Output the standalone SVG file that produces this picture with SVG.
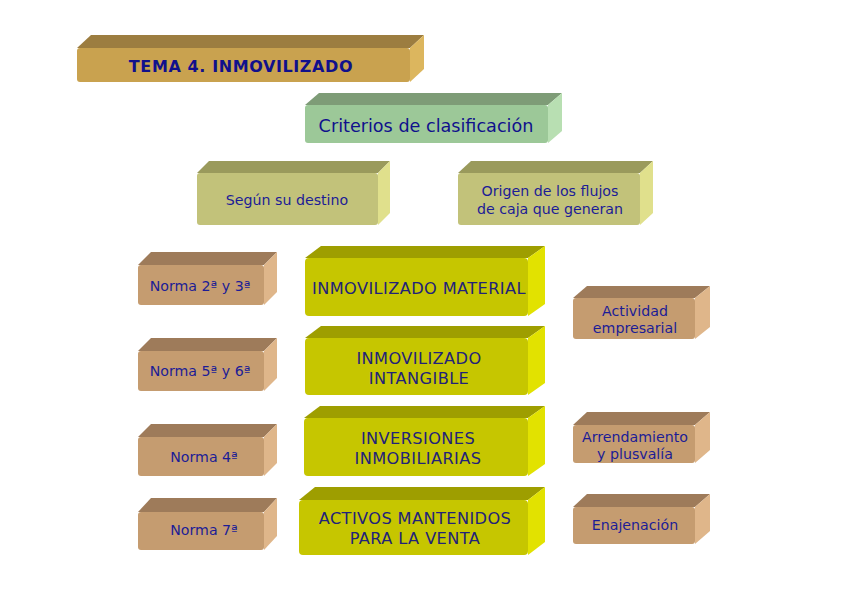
<svg xmlns="http://www.w3.org/2000/svg" width="848" height="599" viewBox="0 0 848 599">
<style>
text{font-family:"DejaVu Sans","Liberation Sans",sans-serif;fill:#1c1c96;text-anchor:middle}
.gold .f{fill:#c9a24f}.gold .t{fill:#9c7d40}.gold .s{fill:#dcb65e}
.green .f{fill:#9cc898}.green .t{fill:#7e9c77}.green .s{fill:#b8dfb2}
.olive .f{fill:#c2c27a}.olive .t{fill:#9a9a5c}.olive .s{fill:#e0e08c}
.tan .f{fill:#c59c70}.tan .t{fill:#9e7b5a}.tan .s{fill:#dfb68a}
.yel .f{fill:#c6c600}.yel .t{fill:#9e9e00}.yel .s{fill:#e2e200}
.big{font-size:16.2px;letter-spacing:0.4px;fill:#22227a}
.sm{font-size:14.2px}
</style>
<rect width="848" height="599" fill="#ffffff"/>

<g id="tema" class="gold">
<polygon class="t" points="77,48 91,35 424,35 410,48"/>
<polygon class="s" points="410,48 424,35 424,69 410,82"/>
<rect class="f" x="77" y="48" width="333" height="34" rx="3"/>
<text x="241" y="72" style="font-size:16px;font-weight:bold;letter-spacing:0.6px;fill:#10108c">TEMA 4. INMOVILIZADO</text>
</g>

<g id="criterios" class="green">
<polygon class="t" points="305,105 319,93 562,93 548,105"/>
<polygon class="s" points="548,105 562,93 562,131 548,143"/>
<rect class="f" x="305" y="105" width="243" height="38" rx="3"/>
<text x="426" y="132" style="font-size:17.6px;fill:#10108c">Criterios de clasificación</text>
</g>

<g id="segun" class="olive">
<polygon class="t" points="197,173 209,161 390,161 378,173"/>
<polygon class="s" points="378,173 390,161 390,213 378,225"/>
<rect class="f" x="197" y="173" width="181" height="52" rx="3"/>
<text class="sm" x="287" y="205">Según su destino</text>
</g>

<g id="origen" class="olive">
<polygon class="t" points="458,173 471,161 653,161 640,173"/>
<polygon class="s" points="640,173 653,161 653,213 640,225"/>
<rect class="f" x="458" y="173" width="182" height="52" rx="3"/>
<text class="sm" x="550" y="196">Origen de los flujos</text>
<text class="sm" x="550" y="214">de caja que generan</text>
</g>

<g id="norma23" class="tan">
<polygon class="t" points="138,265 151,252 277,252 264,265"/>
<polygon class="s" points="264,265 277,252 277,292 264,305"/>
<rect class="f" x="138" y="265" width="126" height="40" rx="3"/>
<text class="sm" x="200" y="291">Norma 2ª y 3ª</text>
</g>

<g id="inmaterial" class="yel">
<polygon class="t" points="305,258 321,246 545,246 528,258"/>
<polygon class="s" points="528,258 545,246 545,304 528,316"/>
<rect class="f" x="305" y="258" width="223" height="58" rx="4"/>
<text class="big" x="419" y="294">INMOVILIZADO MATERIAL</text>
</g>

<g id="actividad" class="tan">
<polygon class="t" points="573,298 587,286 710,286 695,298"/>
<polygon class="s" points="695,298 710,286 710,327 695,339"/>
<rect class="f" x="573" y="298" width="122" height="41" rx="3"/>
<text class="sm" x="635" y="316">Actividad</text>
<text class="sm" x="635" y="333">empresarial</text>
</g>

<g id="norma56" class="tan">
<polygon class="t" points="138,351 151,338 277,338 264,351"/>
<polygon class="s" points="264,351 277,338 277,378 264,391"/>
<rect class="f" x="138" y="351" width="126" height="40" rx="3"/>
<text class="sm" x="200" y="376">Norma 5ª y 6ª</text>
</g>

<g id="inintangible" class="yel">
<polygon class="t" points="305,338 321,326 545,326 528,338"/>
<polygon class="s" points="528,338 545,326 545,383 528,395"/>
<rect class="f" x="305" y="338" width="223" height="57" rx="4"/>
<text class="big" x="419" y="364">INMOVILIZADO</text>
<text class="big" x="419" y="384">INTANGIBLE</text>
</g>

<g id="norma4" class="tan">
<polygon class="t" points="138,437 151,424 277,424 264,437"/>
<polygon class="s" points="264,437 277,424 277,463 264,476"/>
<rect class="f" x="138" y="437" width="126" height="39" rx="3"/>
<text class="sm" x="204" y="462">Norma 4ª</text>
</g>

<g id="inversiones" class="yel">
<polygon class="t" points="304,418 320,406 545,406 528,418"/>
<polygon class="s" points="528,418 545,406 545,464 528,476"/>
<rect class="f" x="304" y="418" width="224" height="58" rx="4"/>
<text class="big" x="418" y="444">INVERSIONES</text>
<text class="big" x="418" y="464">INMOBILIARIAS</text>
</g>

<g id="arrendamiento" class="tan">
<polygon class="t" points="573,425 587,412 710,412 695,425"/>
<polygon class="s" points="695,425 710,412 710,450 695,463"/>
<rect class="f" x="573" y="425" width="122" height="38" rx="3"/>
<text class="sm" x="635" y="442">Arrendamiento</text>
<text class="sm" x="635" y="459">y plusvalía</text>
</g>

<g id="norma7" class="tan">
<polygon class="t" points="138,512 151,498 277,498 264,512"/>
<polygon class="s" points="264,512 277,498 277,536 264,550"/>
<rect class="f" x="138" y="512" width="126" height="38" rx="3"/>
<text class="sm" x="204" y="535">Norma 7ª</text>
</g>

<g id="activos" class="yel">
<polygon class="t" points="299,500 315,487 545,487 528,500"/>
<polygon class="s" points="528,500 545,487 545,542 528,555"/>
<rect class="f" x="299" y="500" width="229" height="55" rx="4"/>
<text class="big" x="415" y="524">ACTIVOS MANTENIDOS</text>
<text class="big" x="415" y="544">PARA LA VENTA</text>
</g>

<g id="enajenacion" class="tan">
<polygon class="t" points="573,507 587,494 710,494 695,507"/>
<polygon class="s" points="695,507 710,494 710,531 695,544"/>
<rect class="f" x="573" y="507" width="122" height="37" rx="3"/>
<text class="sm" x="635" y="530">Enajenación</text>
</g>

<g id="connectors"></g>
</svg>
